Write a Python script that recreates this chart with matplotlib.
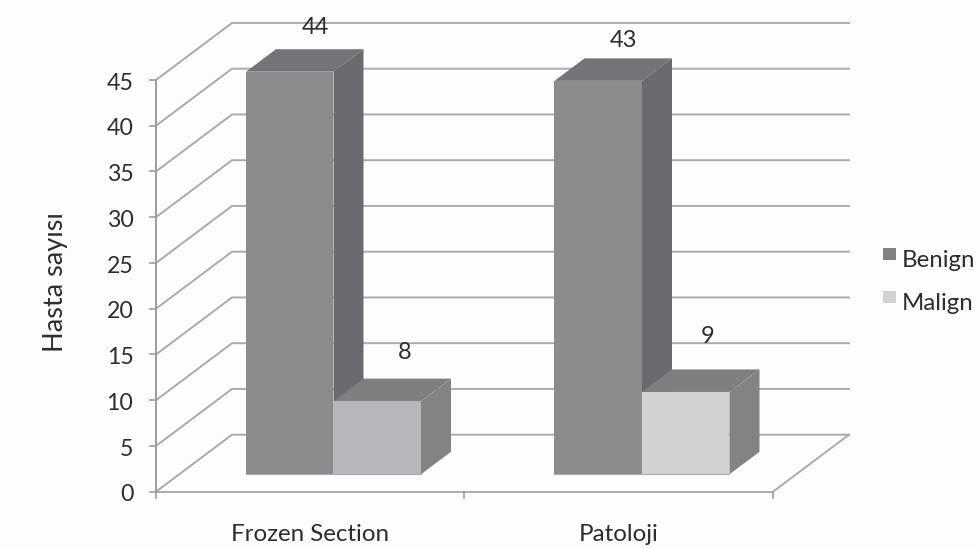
import matplotlib
matplotlib.use("Agg")
import matplotlib.pyplot as plt
from matplotlib.patches import Polygon

categories = ["Frozen Section", "Patoloji"]
series_names = ["Benign", "Malign"]
benign = [44, 43]
malign = [8, 9]
y_ticks = [0, 5, 10, 15, 20, 25, 30, 35, 40, 45]
y_label = "Hasta sayısı"

W, H = 978, 549
plt.rcParams['font.family'] = ['Lato', 'DejaVu Sans']
fig = plt.figure(figsize=(W/100, H/100), dpi=100, facecolor='#fdfdfd')
ax = fig.add_axes([0, 0, 1, 1])

# scales: one category = 308.5 px, one value unit = 9.15 px, origin at pixel (156, 491.7)
PX, PY = 308.5, 9.15
X0, Y0 = 156.0, 491.7
ax.set_xlim(-X0/PX, (W-X0)/PX)
ax.set_ylim(-(H-Y0)/PY, Y0/PY)
ax.axis('off')

def ox(px):
    return px/PX

def oy(px):
    return px/PY

wall_dx, wall_dy = ox(76), oy(57)
bar_w = ox(87.5)
bar_start = ox(90)
bar_dx, bar_dy = ox(30), oy(22.5)
base = oy(17.4)

line_c = '#a9abae'
axis_c = '#9a9c9f'
text_c = '#2d2d30'
fs = 17
lw = 1.4
n = len(categories)
for v in y_ticks:
    ax.plot([0, wall_dx, n+wall_dx], [v, v+wall_dy, v+wall_dy], color=line_c, lw=lw, zorder=1, solid_joinstyle='round')
ax.plot([0, 0], [0, 45], color=axis_c, lw=lw, zorder=2)
ax.plot([0, n], [0, 0], color=line_c, lw=lw, zorder=2)
ax.plot([n, n+wall_dx], [0, wall_dy], color=line_c, lw=lw, zorder=1)
for i in range(n+1):
    ax.plot([i, i], [0, oy(-6)], color=axis_c, lw=1.2, zorder=2)
for v in y_ticks:
    ax.plot([ox(-6), 0], [v, v], color=axis_c, lw=1.2, zorder=2)
    ax.text(ox(-22.5), v-oy(3.2), str(v), ha='right', va='center', fontsize=fs-0.3, color=text_c)

bar_colors = {
    'benign': ('#8b8c8e', '#737477', '#6a6b6e'),
    'malign0': ('#b6b7ba', '#7e7f81', '#828385'),
    'malign1': ('#d0d2d3', '#7e7f81', '#828385'),
}

def bar3d(x, v, cols, z):
    front, top, side = cols
    yb, yt = base, base + v
    ax.add_patch(Polygon([(x, yb), (x+bar_w, yb), (x+bar_w, yt), (x, yt)], fc=front, ec='none', zorder=z+1))
    ax.add_patch(Polygon([(x, yt), (x+bar_w, yt), (x+bar_w+bar_dx, yt+bar_dy), (x+bar_dx, yt+bar_dy)], fc=top, ec='none', zorder=z))
    ax.add_patch(Polygon([(x+bar_w, yb), (x+bar_w+bar_dx, yb+bar_dy), (x+bar_w+bar_dx, yt+bar_dy), (x+bar_w, yt)], fc=side, ec='none', zorder=z))
    ax.plot([x, x+bar_w], [yb, yb], color=line_c, lw=0.8, zorder=z+2)
    return yt + bar_dy

benign_label_gap = [21.3, 18]
malign_label_gap = [26.4, 33.4]
benign_label_shift = [69.5, 69.5]
malign_label_shift = [71, 66]
for i, cat in enumerate(categories):
    x = i + bar_start
    t1 = bar3d(x, benign[i], bar_colors['benign'], 3)
    t2 = bar3d(x + bar_w, malign[i], bar_colors[f'malign{i}'], 5)
    ax.text(x + ox(benign_label_shift[i]), t1 + oy(benign_label_gap[i]), str(benign[i]), ha='center', va='center', fontsize=fs, color=text_c, zorder=8)
    ax.text(x + ox(malign_label_shift[i]) + bar_w, t2 + oy(malign_label_gap[i]), str(malign[i]), ha='center', va='center', fontsize=fs, color=text_c, zorder=8)
    ax.text(i + 0.5, oy(-43), cat, ha='center', va='center', fontsize=fs+0.4, color=text_c)

ax.text(ox(-100), 22.9, y_label, rotation=90, ha='center', va='center', fontsize=fs+2.5, color=text_c)

# legend, placed from the right of the plot in pixel offsets
leg_x = ox(883-X0)
for name, col, py in zip(series_names, ['#808183', '#d0d2d3'], [253.5, 297]):
    yv = oy(Y0-py)
    ax.add_patch(Polygon([(leg_x, yv-oy(6)), (leg_x+ox(13), yv-oy(6)), (leg_x+ox(13), yv+oy(6)), (leg_x, yv+oy(6))], fc=col, ec='none'))
    ax.text(leg_x+ox(18.5), yv-oy(7), name, ha='left', va='center', fontsize=fs+0.3, color=text_c)

fig.savefig('out.png', dpi=100, facecolor=fig.get_facecolor())
